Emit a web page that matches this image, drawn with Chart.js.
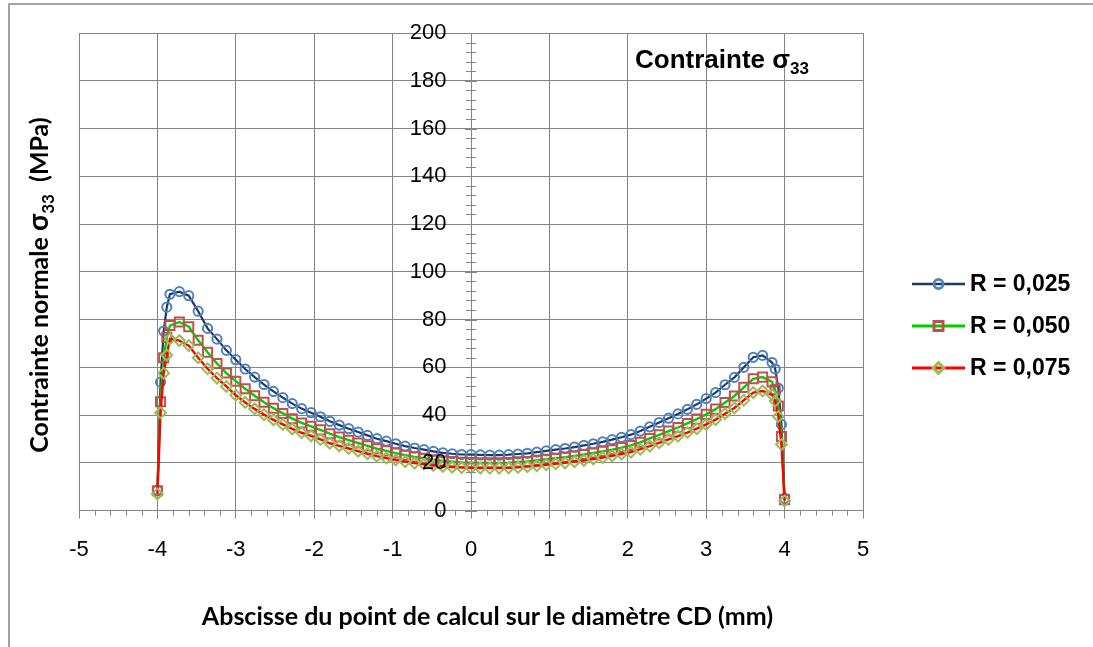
<!DOCTYPE html>
<html lang="fr">
<head>
<meta charset="utf-8">
<title>Contrainte σ33</title>
<script src="https://cdn.jsdelivr.net/npm/chart.js@4.4.1/dist/chart.umd.min.js"></script>
<style>
    html, body { margin: 0; padding: 0; background: #fff; }
    #cadre { position: relative; width: 1093px; height: 647px; }
    #titreX {
        position: absolute; left: 0; top: 600px; width: 975px;
        text-align: center; color: #000;
        font: bold 25px Lato, 'Open Sans', sans-serif;
    }
</style>
</head>
<body>
<div id="cadre">
    <canvas id="grafico" width="1093" height="647"></canvas>
    <div id="titreX">Abscisse du point de calcul sur le diamètre CD (mm)</div>
</div>
<script>
// abscisses des points de calcul (mm)
const abscisses = [
    -4, -3.96, -3.92, -3.88, -3.84,
    -3.72, -3.6, -3.48, -3.36, -3.24, -3.12, -3, -2.88, -2.76, -2.64, -2.52, -2.4, -2.28, -2.16, -2.04,
    -1.92, -1.8, -1.68, -1.56, -1.44, -1.32, -1.2, -1.08, -0.96, -0.84, -0.72, -0.6, -0.48, -0.36, -0.24, -0.12,
    0,
    0.12, 0.24, 0.36, 0.48, 0.6, 0.72, 0.84, 0.96, 1.08, 1.2, 1.32, 1.44, 1.56, 1.68, 1.8, 1.92,
    2.04, 2.16, 2.28, 2.4, 2.52, 2.64, 2.76, 2.88, 3, 3.12, 3.24, 3.36, 3.48, 3.6, 3.72,
    3.84, 3.88, 3.92, 3.96, 4
];

// sigma33 (MPa)
const sigmaR025 = [
    8.5, 53.8, 75.2, 85.2, 90.6,
    91.7, 90.0, 83.5, 76.3, 71.8, 67.1, 63.2, 59.3, 55.9, 52.8, 49.9, 47.3, 44.8, 42.7, 41.0,
    39.3, 37.4, 35.8, 34.3, 32.9, 31.5, 30.1, 29.1, 28.0, 27.0, 26.2, 25.5, 24.8, 24.2, 23.8, 23.5,
    23.4,
    23.3, 23.2, 23.2, 23.4, 23.7, 24.0, 24.5, 25.0, 25.5, 26.0, 26.6, 27.3, 28.0, 28.8, 29.7, 30.7,
    31.8, 33.3, 35.1, 36.9, 38.7, 40.5, 42.4, 44.5, 46.9, 49.4, 52.7, 55.8, 60.0, 64.2, 65.0,
    62.0, 59.3, 51.3, 36.1, 5.2
];
const sigmaR050 = [
    8.3, 45.6, 64.0, 72.6, 77.5,
    79.0, 77.0, 71.3, 66.3, 61.6, 57.6, 54.2, 51.0, 48.1, 45.4, 42.9, 40.7, 38.5, 36.7, 35.3,
    33.8, 32.2, 30.8, 29.5, 28.3, 27.1, 25.9, 25.0, 24.1, 23.2, 22.5, 21.9, 21.3, 20.8, 20.5, 20.2,
    20.1,
    20.0, 20.0, 20.0, 20.1, 20.4, 20.6, 21.1, 21.5, 21.9, 22.4, 22.9, 23.5, 24.1, 24.8, 25.5, 26.4,
    27.3, 28.6, 30.2, 31.7, 33.3, 34.8, 36.5, 38.3, 40.3, 42.5, 45.3, 48.0, 51.6, 55.2, 55.9,
    53.9, 50.6, 43.8, 31.0, 4.6
];
const sigmaR075 = [
    7.0, 41.0, 57.5, 65.1, 71.9,
    71.2, 69.1, 64.0, 59.4, 55.5, 52.0, 48.3, 45.3, 42.6, 40.2, 38.0, 36.1, 34.2, 32.6, 31.3,
    29.8, 28.2, 27.1, 26.0, 24.9, 23.8, 22.8, 22.0, 21.2, 20.5, 19.9, 19.4, 18.9, 18.5, 18.2, 18.0,
    17.9,
    17.8, 17.8, 17.8, 17.9, 18.1, 18.4, 18.8, 19.2, 19.6, 20.0, 20.5, 21.0, 21.6, 22.2, 22.9, 23.7,
    24.5, 25.7, 27.0, 28.4, 29.8, 31.2, 32.7, 34.3, 36.1, 38.1, 40.6, 43.0, 46.2, 49.4, 50.1,
    48.5, 45.9, 39.4, 27.7, 4.0
];

const nomsSeries = ['R = 0,025', 'R = 0,050', 'R = 0,075'];
const ticksX = [-5, -4, -3, -2, -1, 0, 1, 2, 3, 4, 5];
const ticksY = [0, 20, 40, 60, 80, 100, 120, 140, 160, 180, 200];

const ARIAL = "'Liberation Sans', Arial, sans-serif";
const CALIBRI = "Lato, 'Open Sans', sans-serif";
const GRIS = '#858585';

function pointsDe(valeurs) {
    return abscisses.map((x, i) => ({ x: x, y: valeurs[i] }));
}

function texteRiche(ctx, morceaux, x, y, align) {
    let total = 0;
    morceaux.forEach(m => {
        ctx.font = m.font;
        m.w = ctx.measureText(m.text).width;
        total += m.w;
    });
    let cx = align === 'center' ? x - total / 2 : x;
    morceaux.forEach(m => {
        ctx.font = m.font;
        ctx.fillText(m.text, cx, y + (m.dy || 0));
        cx += m.w;
    });
}

// cadre, petites graduations, titres et légende
const decor = {
    id: 'decor',
    beforeDraw(chart) {
        const ctx = chart.ctx;
        ctx.save();
        ctx.fillStyle = '#fff';
        ctx.fillRect(0, 0, chart.width, chart.height);
        ctx.strokeStyle = GRIS;
        ctx.lineWidth = 1.5;
        ctx.strokeRect(9, 4, chart.width + 20, chart.height + 20);
        ctx.restore();
    },
    afterDraw(chart) {
        const ctx = chart.ctx;
        const sx = chart.scales.x;
        const sy = chart.scales.y;
        const x0 = sx.getPixelForValue(0);
        const yBas = sy.getPixelForValue(0);

        ctx.save();
        ctx.strokeStyle = GRIS;
        ctx.lineWidth = 1;

        // graduations axe vertical (croisées)
        for (let i = 0; i < ticksY.length - 1; i++) {
            const pas = (ticksY[i + 1] - ticksY[i]) / 5;
            for (let k = 0; k <= 5; k++) {
                const y = Math.round(sy.getPixelForValue(ticksY[i] + k * pas)) + 0.5;
                const l = (k === 0 || k === 5) ? 6 : 5;
                ctx.beginPath();
                ctx.moveTo(x0 - l, y);
                ctx.lineTo(x0 + l, y);
                ctx.stroke();
            }
        }
        // graduations secondaires axe horizontal
        for (let i = 0; i < ticksX.length - 1; i++) {
            const pas = (ticksX[i + 1] - ticksX[i]) / 5;
            for (let k = 1; k < 5; k++) {
                const x = Math.round(sx.getPixelForValue(ticksX[i] + k * pas)) + 0.5;
                ctx.beginPath();
                ctx.moveTo(x, yBas);
                ctx.lineTo(x, yBas + 5);
                ctx.stroke();
            }
        }

        ctx.fillStyle = '#000';
        ctx.textBaseline = 'alphabetic';

        // titre dans le graphique
        texteRiche(ctx, [
            { text: 'Contrainte σ', font: 'bold 26px ' + ARIAL },
            { text: '33', font: 'bold 17px ' + ARIAL, dy: 6 }
        ], 635, 68, 'left');

        // titre axe vertical
        ctx.save();
        ctx.translate(48, 285);
        ctx.rotate(-Math.PI / 2);
        texteRiche(ctx, [
            { text: 'Contrainte normale ', font: 'bold 25px ' + CALIBRI },
            { text: 'σ', font: 'bold 28px ' + CALIBRI },
            { text: '33', font: 'bold 17px ' + CALIBRI, dy: 6 },
            { text: '  (MPa)', font: 'bold 25px ' + CALIBRI }
        ], 0, 0, 'center');
        ctx.restore();

        // légende
        chart.data.datasets.forEach((ds, i) => {
            const y = 284 + i * 42;
            ctx.strokeStyle = ds.borderColor;
            ctx.lineWidth = ds.borderWidth + 0.5;
            ctx.beginPath();
            ctx.moveTo(912, y);
            ctx.lineTo(965, y);
            ctx.stroke();
            ctx.strokeStyle = ds.pointBorderColor;
            ctx.fillStyle = 'rgba(255,255,255,0)';
            Chart.helpers.drawPoint(ctx, {
                pointStyle: ds.pointStyle,
                radius: ds.pointRadius,
                rotation: 0,
                borderWidth: ds.pointBorderWidth
            }, 938.5, y);
            ctx.fillStyle = '#000';
            ctx.font = 'bold 23px ' + ARIAL;
            ctx.textBaseline = 'middle';
            ctx.fillText(ds.label, 970, y + 1);
        });
        ctx.restore();
    }
};

const ctx = document.getElementById('grafico').getContext('2d');

new Chart(ctx, {
    type: 'line',
    data: {
        datasets: [
            {
                label: nomsSeries[0],
                data: pointsDe(sigmaR025),
                borderColor: '#1F3864',
                borderWidth: 2.2,
                pointStyle: 'circle',
                pointRadius: 4.6,
                pointBorderColor: '#4F81BD',
                pointBackgroundColor: 'rgba(255,255,255,0)',
                pointBorderWidth: 2,
                tension: 0,
                order: 3
            },
            {
                label: nomsSeries[1],
                data: pointsDe(sigmaR050),
                borderColor: '#00CC00',
                borderWidth: 2.4,
                pointStyle: 'rect',
                pointRadius: 6.4,
                pointBorderColor: '#C0504D',
                pointBackgroundColor: 'rgba(255,255,255,0)',
                pointBorderWidth: 2,
                tension: 0,
                order: 2
            },
            {
                label: nomsSeries[2],
                data: pointsDe(sigmaR075),
                borderColor: '#FF0000',
                borderWidth: 2.4,
                pointStyle: 'rectRot',
                pointRadius: 5.4,
                pointBorderColor: '#9BBB59',
                pointBackgroundColor: 'rgba(255,255,255,0)',
                pointBorderWidth: 2,
                tension: 0,
                order: 1
            }
        ]
    },
    options: {
        responsive: false,
        animation: false,
        devicePixelRatio: 1,
        layout: {
            padding: { left: 79, right: 230, top: 33, bottom: 66 }
        },
        plugins: {
            legend: { display: false },
            title: { display: false },
            tooltip: { enabled: false }
        },
        scales: {
            x: {
                type: 'linear',
                min: -5,
                max: 5,
                afterBuildTicks: (scale) => { scale.ticks = ticksX.map(v => ({ value: v })); },
                ticks: {
                    autoSkip: false,
                    maxRotation: 0,
                    padding: 18,
                    color: '#000',
                    font: { family: ARIAL, size: 22 }
                },
                grid: { color: GRIS, lineWidth: 1, tickLength: 8, tickColor: GRIS },
                border: { display: true, color: GRIS, width: 1 }
            },
            y: {
                type: 'linear',
                position: { x: 0 },
                min: 0,
                max: 200,
                afterBuildTicks: (scale) => { scale.ticks = ticksY.map(v => ({ value: v })); },
                ticks: {
                    z: 1,
                    color: '#000',
                    font: { family: ARIAL, size: 22 },
                    // l'étiquette est alignée à droite sur l'axe : on la décale avec des espaces
                    callback: (v) => v + '    '
                },
                grid: { color: GRIS, lineWidth: 1, drawTicks: false },
                border: { display: true, color: GRIS, width: 1 }
            }
        }
    },
    plugins: [decor]
});
</script>
</body>
</html>
